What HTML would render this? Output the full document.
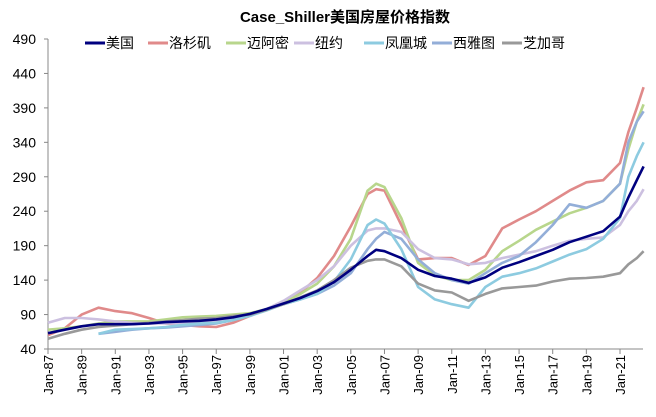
<!DOCTYPE html>
<html><head><meta charset="utf-8"><style>
body{margin:0;background:#fff;}
svg{display:block;font-family:"Liberation Sans","Noto Sans CJK SC",sans-serif;}
</style></head><body>
<svg id="chart" width="656" height="417">
<text x="345" y="22" text-anchor="middle" font-size="15" font-weight="bold">Case_Shiller美国房屋价格指数</text>
<g id="legend"></g><g id="axes"></g><g id="lines"></g>
</svg>
<script>
const years = [1987,1988,1989,1990,1991,1992,1993,1994,1995,1996,1997,1998,1999,2000,2001,2002,2003,2004,2005,2006,2006.5,2007,2008,2009,2010,2011,2012,2013,2014,2015,2016,2017,2018,2019,2020,2021,2021.5,2022,2022.4];
const seriesNames = ["美国","洛杉矶","迈阿密","纽约","凤凰城","西雅图","芝加哥"];
const usVals = [63,68,73,76,76,76,77,79,80,81,83,86,91,98,106,114,124,137,155,175,184,182,172,155,146,142,136,144,158,166,175,184,195,203,211,232,260,285,305];
const laVals = [60,70,90,100,95,92,85,77,75,73,72,78,88,98,108,122,143,175,218,265,272,270,220,170,172,172,162,175,215,228,240,255,270,282,285,310,355,390,420];
const miamiVals = [68,70,73,77,80,80,80,83,86,87,88,90,92,98,108,120,135,160,200,270,280,275,230,165,147,140,140,155,182,197,213,225,237,245,255,280,330,370,395];
const nyVals = [78,85,85,83,80,78,77,77,77,78,80,84,88,98,110,125,140,160,190,212,215,215,210,185,172,170,163,165,172,177,182,190,197,200,202,220,240,255,272];
const phxVals = [null,null,null,62,68,69,70,72,75,77,78,82,88,96,105,112,120,138,170,220,228,222,185,130,112,105,100,130,145,150,157,167,177,185,200,230,290,320,340];
const seaVals = [null,null,null,62,65,68,70,71,73,75,77,82,90,98,105,112,120,132,150,185,200,210,200,170,150,140,135,150,165,175,195,220,250,245,255,280,340,370,385];
const chiVals = [55,62,68,72,74,76,78,80,82,84,85,88,90,97,105,115,125,140,158,168,170,170,160,135,125,122,110,120,128,130,132,138,142,143,145,150,163,172,182];
const colors = ["#00007f","#e08a8a","#b8d68c","#ccc0e0","#8dcbe0","#93aed8","#999999"];
const yTicks = [40,90,140,190,240,290,340,390,440,490];
const xTickLabels = ["Jan-87","Jan-89","Jan-91","Jan-93","Jan-95","Jan-97","Jan-99","Jan-01","Jan-03","Jan-05","Jan-07","Jan-09","Jan-11","Jan-13","Jan-15","Jan-17","Jan-19","Jan-21"];
const all = [usVals,laVals,miamiVals,nyVals,phxVals,seaVals,chiVals];

const X0=48, X1=643, Y0=349, Y1=39;
const xs = y => X0 + (y-1987)*(620-48)/34;
const ys = v => Y0 - (v-40)/(450)*(Y0-Y1);
const NS="http://www.w3.org/2000/svg";
function mk(tag, attrs, parent){const e=document.createElementNS(NS,tag);for(const k in attrs)e.setAttribute(k,attrs[k]);parent.appendChild(e);return e;}
const axes=document.getElementById('axes');
let a=mk('line',{x1:X0,y1:Y1,x2:X0,y2:Y0,stroke:'#888'},axes);


a=mk('line',{x1:X0,y1:Y0,x2:X1,y2:Y0,stroke:'#888'},axes);


yTicks.forEach(v=>{
  const t=mk('text',{x:36,y:ys(v)+5,'text-anchor':'end','font-size':14},axes);t.textContent=v;
  
  
  mk('line',{x1:X0-4,y1:ys(v),x2:X0,y2:ys(v),stroke:'#888'},axes);
});
xTickLabels.forEach((l,i)=>{
  const yr=1987+2*i, x=xs(yr);
  mk('line',{x1:x,y1:Y0,x2:x,y2:Y0+5,stroke:'#888'},axes);
  const t=mk('text',{x:0,y:0,'text-anchor':'end','font-size':13,transform:`translate(${x+5},${Y0+6}) rotate(-90)`},axes);t.textContent=l;
  
  
});
const lines=document.getElementById('lines');
[1,2,3,5,4,6,0].forEach(i=>{
  const pts=[];all[i].forEach((v,j)=>{if(v!==null)pts.push(xs(years[j]).toFixed(1)+','+ys(v).toFixed(1));});
  const p=mk('polyline',{points:pts.join(' '),fill:'none',stroke:colors[i],'stroke-width':2.6,'stroke-linejoin':'round'},lines);
  
  
});
const lg=document.getElementById('legend');
const lx=[85,148,226,294,364,432,502];
seriesNames.forEach((n,i)=>{
  mk('line',{x1:lx[i],y1:43,x2:lx[i]+20,y2:43,stroke:colors[i],'stroke-width':3},lg);
  const t=mk('text',{x:lx[i]+21,y:48,'font-size':14},lg);t.textContent=n;
  
  
});
</script>
</body></html>
